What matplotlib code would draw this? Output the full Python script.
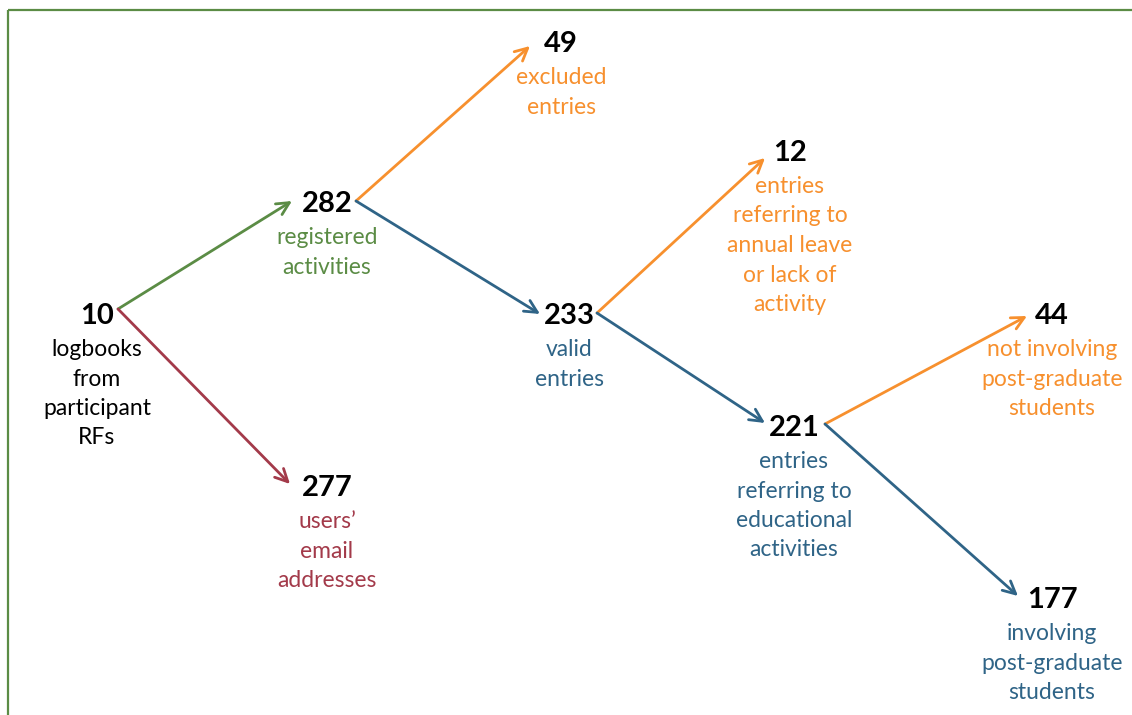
import matplotlib.pyplot as plt
from matplotlib.patches import Rectangle

plt.rcParams['font.family'] = ['Lato', 'DejaVu Sans']

# node data
node_ids = ['logbooks', 'registered', 'emails', 'excluded', 'valid',
            'leave', 'educational', 'not_pg', 'pg']
node_values = [10, 282, 277, 49, 233, 12, 221, 44, 177]
node_labels = [
    'logbooks\nfrom\nparticipant\nRFs',
    'registered\nactivities',
    'users\u2019\nemail\naddresses',
    'excluded\nentries',
    'valid\nentries',
    'entries\nreferring to\nannual leave\nor lack of\nactivity',
    'entries\nreferring to\neducational\nactivities',
    'not involving\npost-graduate\nstudents',
    'involving\npost-graduate\nstudents',
]
# flows: (source, target)
flows = [('logbooks', 'registered'), ('logbooks', 'emails'),
         ('registered', 'excluded'), ('registered', 'valid'),
         ('valid', 'leave'), ('valid', 'educational'),
         ('educational', 'not_pg'), ('educational', 'pg')]

# layout / style
GREEN = '#5b8c45'
RED = '#a33a4a'
ORANGE = '#f7902e'
BLUE = '#2f6487'
node_pos = {'logbooks': (97, 316), 'registered': (327, 204), 'emails': (327, 488),
            'excluded': (561, 44), 'valid': (569, 316), 'leave': (790, 153),
            'educational': (794, 428), 'not_pg': (1052, 316), 'pg': (1052, 600)}
label_colors = {'logbooks': 'black', 'registered': GREEN, 'emails': RED,
                'excluded': ORANGE, 'valid': BLUE, 'leave': ORANGE,
                'educational': BLUE, 'not_pg': ORANGE, 'pg': BLUE}
# arrow start (right of source number) and end (left of target number)
start_off = {'logbooks': (21, -7), 'registered': (29, -3), 'valid': (28, -3),
             'educational': (31, -4)}
end_off = {'registered': (-35, -3), 'emails': (-37, -4), 'excluded': (-31, 2),
           'valid': (-29, -2), 'leave': (-25, 5), 'educational': (-29, -5),
           'not_pg': (-25, 0), 'pg': (-34, -4)}

fig = plt.figure(figsize=(11.32, 7.15), dpi=100)
ax = fig.add_axes([0, 0, 1, 1])
ax.set_xlim(0, 1132)
ax.set_ylim(715, 0)
ax.axis('off')

ax.add_patch(Rectangle((8, 10), 1200, 800, fill=False, edgecolor=GREEN, lw=1.6))

for src, dst in flows:
    sx, sy = node_pos[src]
    dx, dy = node_pos[dst]
    x0, y0 = sx + start_off[src][0], sy + start_off[src][1]
    x1, y1 = dx + end_off[dst][0], dy + end_off[dst][1]
    col = label_colors[dst]
    ax.annotate('', xy=(x1, y1), xytext=(x0, y0),
                arrowprops=dict(arrowstyle='->,head_length=0.9,head_width=0.45',
                                color=col, lw=2, shrinkA=0, shrinkB=0))

for nid, val, lab in zip(node_ids, node_values, node_labels):
    x, y = node_pos[nid]
    ax.text(x, y, str(val), ha='center', va='center', fontsize=21,
            fontweight='bold', color='black')
    ax.text(x, y + 23, lab, ha='center', va='top', fontsize=16.5,
            color=label_colors[nid], linespacing=1.5)

fig.savefig('out.png', dpi=100)
